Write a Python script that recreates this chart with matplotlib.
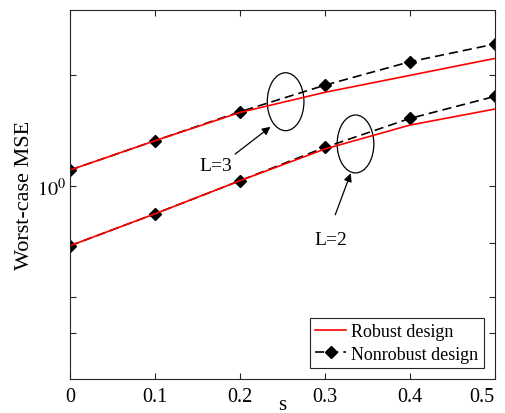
import numpy as np
import matplotlib.pyplot as plt
from matplotlib.patches import Ellipse

plt.rcParams['font.family'] = ['Liberation Serif', 'DejaVu Serif']
plt.rcParams['mathtext.fontset'] = 'stix'

s = [0, 0.1, 0.2, 0.3, 0.4, 0.5]
robust_l3 = [1.105, 1.327, 1.583, 1.795, 1.995, 2.218]
nonrobust_l3 = [1.105, 1.327, 1.590, 1.877, 2.172, 2.426]
robust_l2 = [0.689, 0.841, 1.034, 1.260, 1.463, 1.617]
nonrobust_l2 = [0.689, 0.841, 1.034, 1.273, 1.525, 1.750]

axcol = '#262626'

fig = plt.figure(figsize=(5.06, 4.14), dpi=100)
ax = fig.add_axes([0.1383, 0.0821, 0.8397, 0.8913])

for nr, r in [(nonrobust_l3, robust_l3), (nonrobust_l2, robust_l2)]:
    ax.plot(s, nr, 'k--', marker='D', markersize=6.5, lw=1.2,
            dashes=(5.5, 3), label='Nonrobust design')
    ax.plot(s, r, color='#ff0000', lw=1.2, label='Robust design')

ax.set_yscale('log')
ax.set_xlim(0, 0.5)
ax.set_ylim(0.3, 3)
ax.set_xticks(s)
ax.set_xticklabels(['0', '0.1', '0.2', '0.3', '0.4', '0.5'])
ax.set_yticks([1])
ax.set_yticklabels([r'$10^0$'])
ax.set_yticks([0.4, 0.5, 0.7, 2], minor=True)
ax.yaxis.set_minor_formatter(plt.NullFormatter())
ax.tick_params(which='both', direction='in', top=True, right=True,
               labelsize=14.5, length=4, width=0.8, color=axcol)
ax.tick_params(axis='x', pad=6)
ax.tick_params(axis='y', pad=3)
for sp in ax.spines.values():
    sp.set_linewidth(0.8)
    sp.set_color(axcol)
# keep the last tick label inside the figure
ax.get_xticklabels()[-1].set_horizontalalignment('right')
ax.get_xticklabels()[-1].set_x(0.5)

ax.set_ylabel('Worst-case MSE', fontsize=16, labelpad=2)
ax.set_xlabel('s', fontsize=15, va='center')
ax.xaxis.set_label_coords(0.5, -0.068)

# ellipses and annotations
for cx, cy in [(0.5075, 0.7515), (0.672, 0.637)]:
    ax.add_patch(Ellipse((cx, cy), 0.0863, 0.157, transform=ax.transAxes,
                         fill=False, lw=0.9, color='k'))
ax.annotate('', xy=(0.477, 0.688), xytext=(0.3835, 0.605),
            xycoords='axes fraction', textcoords='axes fraction',
            arrowprops=dict(arrowstyle='-|>', color='k', lw=0.9,
                            mutation_scale=12))
ax.text(0.3435, 0.578, 'L=3', transform=ax.transAxes, fontsize=14,
        ha='center', va='center')
ax.annotate('', xy=(0.663, 0.5645), xytext=(0.622, 0.438),
            xycoords='axes fraction', textcoords='axes fraction',
            arrowprops=dict(arrowstyle='-|>', color='k', lw=0.9,
                            mutation_scale=12))
ax.text(0.614, 0.3775, 'L=2', transform=ax.transAxes, fontsize=14,
        ha='center', va='center')

h, l = ax.get_legend_handles_labels()
leg = ax.legend([h[1], h[0]], [l[1], l[0]], loc='lower right', fontsize=13,
                fancybox=False, edgecolor=axcol, framealpha=1,
                handlelength=1.7, handletextpad=0.3, borderpad=0.3,
                labelspacing=0.3, borderaxespad=0.6)
leg.get_frame().set_linewidth(0.8)

fig.savefig('out.png', dpi=100)
